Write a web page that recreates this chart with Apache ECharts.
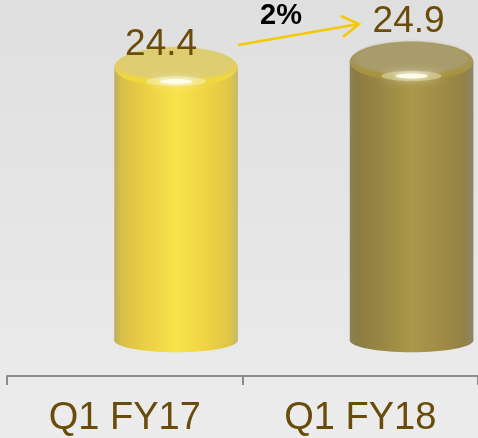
<!DOCTYPE html>
<html>
<head>
<meta charset="utf-8">
<script src="https://cdn.jsdelivr.net/npm/echarts@6/dist/echarts.min.js"></script>
<style>
html,body{margin:0;padding:0;}
#c{width:478px;height:438px;background:linear-gradient(#dfdfdf,#ececec);}
</style>
</head>
<body>
<div id="c"></div>
<script>
const categories = ['Q1 FY17', 'Q1 FY18'];
const values = [24.4, 24.9];
const valueLabels = ['24.4', '24.9'];
const changeLabel = '2%';

// styling (not data)
const bodyStops = [
  [[0,'#c0ad5c'],[0.06,'#dabf4a'],[0.25,'#ebcf44'],[0.5,'#f7e34a'],[0.75,'#efd343'],[0.93,'#dfc646'],[1,'#c6b86c']],
  [[0,'#8a8259'],[0.06,'#8d7c43'],[0.3,'#9b8946'],[0.5,'#a99849'],[0.75,'#a08b45'],[0.93,'#928047'],[1,'#8d8668']]
];
const rimStops = [
  [[0,'#dccb6c'],[0.55,'#e4cf62'],[0.8,'#f2d93a'],[1,'#eccf3a']],
  [[0,'#a89b68'],[0.55,'#a49455'],[0.8,'#a8933a'],[1,'#9e8a3c']]
];
const faceColors = ['#ddcd70', '#a99c6b'];
const labelShift = [[-15, -22], [-3, -40]];
const textColor = '#6a4c0a';

const chart = echarts.init(document.getElementById('c'), null, {renderer:'canvas'});

function makeStops(s){ return s.map(p => ({offset:p[0], color:p[1]})); }

const option = {
  animation: false,
  grid: {left: 7, right: -1, top: 0, bottom: 62},
  xAxis: {
    type: 'category',
    data: categories,
    boundaryGap: true,
    axisLine: {show: true, onZero: false, lineStyle: {color: '#8c8c8c', width: 2}},
    axisTick: {show: true, length: 9, lineStyle: {color: '#8c8c8c', width: 2}},
    axisLabel: {color: textColor, fontSize: 38, fontFamily: 'Liberation Sans, Arial, sans-serif', margin: 24}
  },
  yAxis: {type: 'value', min: -3.2, max: 30.4, show: false, splitLine: {show: false}},
  series: [{
    type: 'custom',
    clip: false,
    data: values.map((v, i) => [i, v]),
    encode: {x: 0, y: 1},
    renderItem: function(params, api){
      const i = api.value(0);
      const band = api.size([1, 0])[0];
      const top = api.coord([i, api.value(1)]);
      const base = api.coord([i, 0]);
      const cx = top[0] + band * 0.218;
      const w = band * 0.525;
      const rx = w / 2;
      const ryT = 20, ryB = 12;
      const bodyFill = new echarts.graphic.LinearGradient(0, 0, 1, 0, makeStops(bodyStops[i]));
      const rimFill = new echarts.graphic.LinearGradient(0, 0, 0, 1, makeStops(rimStops[i]));
      const hy = top[1] + ryT * 0.72;
      const children = [
        {type: 'ellipse', shape: {cx: cx, cy: base[1], rx: rx, ry: ryB}, style: {fill: bodyFill}},
        {type: 'rect', shape: {x: cx - rx, y: top[1], width: w, height: base[1] - top[1]}, style: {fill: bodyFill}},
        {type: 'ellipse', shape: {cx: cx, cy: top[1], rx: rx, ry: ryT}, style: {fill: rimFill}},
        {type: 'ellipse', shape: {cx: cx, cy: top[1] - 3, rx: rx * 0.9, ry: ryT * 0.78},
          style: {fill: faceColors[i], shadowBlur: 4, shadowColor: faceColors[i]}},
        {type: 'ellipse', shape: {cx: cx, cy: hy, rx: 30, ry: 5},
          style: {fill: 'rgba(255,255,225,0.35)', shadowBlur: 8, shadowColor: 'rgba(255,255,225,0.8)'}},
        {type: 'ellipse', shape: {cx: cx, cy: hy, rx: 16, ry: 2.5},
          style: {fill: 'rgba(255,255,240,0.85)', shadowBlur: 5, shadowColor: 'rgba(255,255,240,0.9)'}},
        {type: 'text', style: {text: valueLabels[i], x: cx + labelShift[i][0], y: top[1] + labelShift[i][1],
          fill: textColor, font: '37px "Liberation Sans", Arial, sans-serif', align: 'center', verticalAlign: 'middle'}}
      ];
      return {type: 'group', children: children};
    }
  }],
  graphic: [
    {type: 'line', shape: {x1: 238, y1: 45, x2: 359, y2: 24}, style: {stroke: '#f5c800', lineWidth: 2.5}},
    {type: 'polyline', shape: {points: [[341, 16], [359, 24], [343, 37]]}, style: {stroke: '#f5c800', lineWidth: 2.5, fill: null}},
    {type: 'text', style: {text: changeLabel, x: 281, y: 16, fill: '#000', font: 'bold 29px "Liberation Sans", Arial, sans-serif', align: 'center', verticalAlign: 'middle'}}
  ]
};
chart.setOption(option);
</script>
</body>
</html>
